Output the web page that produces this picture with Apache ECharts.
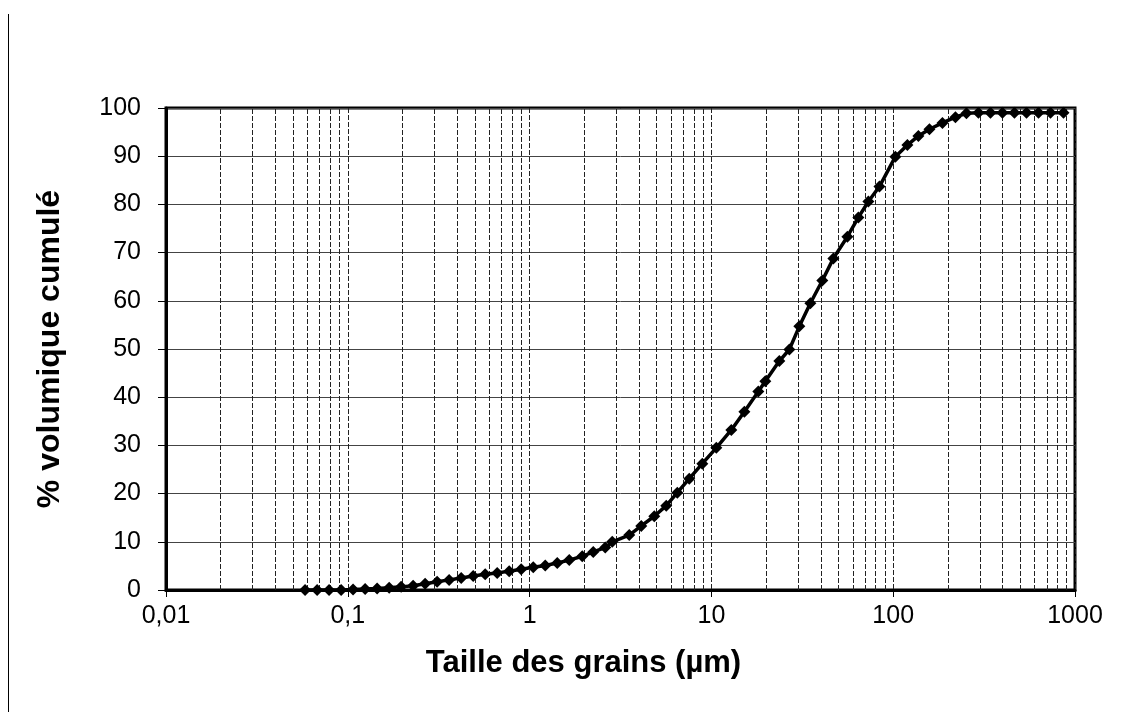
<!DOCTYPE html>
<html>
<head>
<meta charset="utf-8">
<script src="https://cdn.jsdelivr.net/npm/echarts@6/dist/echarts.min.js"></script>
<style>
  html, body { margin: 0; padding: 0; background: #fff; }
  #chart { width: 1145px; height: 723px; }
</style>
</head>
<body>
<div id="chart"></div>
<script>
// taille des grains (µm)
const grainSize = [
  0.0582, 0.0678, 0.0789, 0.0919, 0.1069, 0.1245, 0.145, 0.1689, 0.1965, 0.2288,
  0.2663, 0.3101, 0.361, 0.4203, 0.4893, 0.5696, 0.6633, 0.7721, 0.8991, 1.047,
  1.219, 1.419, 1.652, 1.948, 2.239, 2.607, 2.848, 3.533, 4.114, 4.851,
  5.647, 6.492, 7.556, 8.911, 10.64, 12.87, 15.18, 18.12, 19.8, 23.64,
  26.84, 30.46, 35.02, 40.76, 46.87, 55.96, 64.35, 73.04, 84.0, 102.8,
  119.7, 137.6, 158.2, 186.6, 219.9, 252.9, 294.3, 342.8, 399.0, 464.5,
  541.0, 629.7, 733.3, 864.4
]
// % volumique cumulé
const cumVolume = [
  0, 0, 0, 0, 0.1, 0.2, 0.3, 0.45, 0.65, 0.9,
  1.3, 1.7, 2.1, 2.5, 2.9, 3.25, 3.55, 3.9, 4.3, 4.7,
  5.1, 5.6, 6.2, 7.0, 7.9, 8.8, 10.0, 11.4, 13.3, 15.3,
  17.5, 20.2, 23.1, 26.2, 29.5, 33.2, 37.0, 41.2, 43.3, 47.5,
  49.9, 54.7, 59.5, 64.2, 68.8, 73.3, 77.3, 80.6, 83.7, 89.9,
  92.3, 94.2, 95.6, 96.9, 98.1, 98.9, 99, 99, 99, 99,
  99, 99, 99, 99
]
// lignes verticales secondaires (2..9 de chaque décade)
const minorGrid = [
  0.02, 0.03, 0.04, 0.05, 0.06, 0.07, 0.08, 0.09,
  0.2, 0.3, 0.4, 0.5, 0.6, 0.7, 0.8, 0.9,
  2, 3, 4, 5, 6, 7, 8, 9,
  20, 30, 40, 50, 60, 70, 80, 90,
  200, 300, 400, 500, 600, 700, 800, 900
]
const xTickLabels = ['0,01', '0,1', '1', '10', '100', '1000']

const chart = echarts.init(document.getElementById('chart'))

const fontFam = '"Liberation Sans", Arial, sans-serif'

chart.setOption({
  backgroundColor: '#fff',
  animation: false,
  grid: {
    left: 166, right: 70, top: 108, bottom: 133,
    show: true, borderColor: '#000', borderWidth: 3, backgroundColor: 'transparent'
  },
  xAxis: {
    type: 'log',
    logBase: 10,
    min: 0.01,
    max: 1000,
    name: 'Taille des grains (µm)',
    nameLocation: 'middle',
    nameGap: 58,
    nameTextStyle: {
      fontFamily: fontFam, fontWeight: 'bold', fontSize: 31, color: '#000',
      padding: [0, 74, 0, 0]
    },
    axisLine: { show: true, lineStyle: { color: '#000', width: 3 } },
    axisTick: { show: true, inside: false, length: 7, lineStyle: { color: '#000', width: 1 } },
    axisLabel: {
      fontFamily: fontFam, fontSize: 25, color: '#000', margin: 14,
      formatter: v => {
        const idx = Math.round(Math.log10(v)) + 2
        return xTickLabels[idx] !== undefined ? xTickLabels[idx] : ''
      }
    },
    splitLine: { show: true, lineStyle: { color: '#222', width: 1, type: [5, 2] } },
    minorTick: { show: false },
    minorSplitLine: { show: false }
  },
  yAxis: {
    type: 'value',
    min: 0,
    max: 100,
    interval: 10,
    name: '% volumique cumulé',
    nameLocation: 'middle',
    nameGap: 100,
    nameTextStyle: { fontFamily: fontFam, fontWeight: 'bold', fontSize: 32, color: '#000' },
    axisLine: { show: true, lineStyle: { color: '#000', width: 3 } },
    axisTick: { show: true, inside: false, length: 8, lineStyle: { color: '#000', width: 1 } },
    axisLabel: { fontFamily: fontFam, fontSize: 25, color: '#000', margin: 25 },
    splitLine: { show: true, lineStyle: { color: '#444', width: 1, type: 'solid' } }
  },
  series: [{
    type: 'line',
    data: grainSize.map((x, i) => [x, cumVolume[i]]),
    symbol: 'diamond',
    symbolSize: 12,
    showSymbol: true,
    itemStyle: { color: '#000' },
    lineStyle: { color: '#000', width: 3.5 },
    z: 5,
    markLine: {
      silent: true,
      symbol: ['none', 'none'],
      label: { show: false },
      lineStyle: { color: '#222', width: 1, type: [5, 2] },
      data: minorGrid.map(v => ({ xAxis: v })),
      z: 1
    }
  }],
  graphic: [{
    type: 'line',
    shape: { x1: 8.5, y1: 14, x2: 8.5, y2: 712 },
    style: { stroke: '#000', lineWidth: 1 }
  }]
})
</script>
</body>
</html>
